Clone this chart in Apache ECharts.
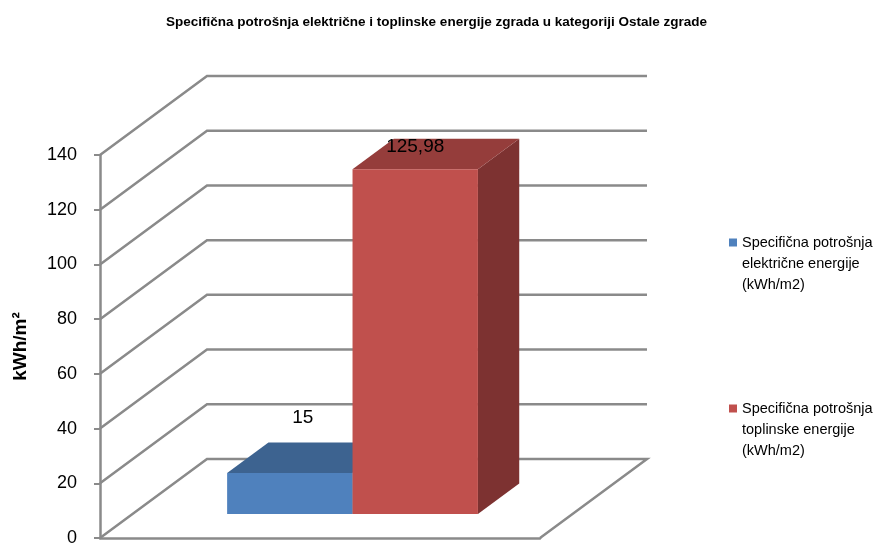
<!DOCTYPE html>
<html>
<head>
<meta charset="utf-8">
<script src="https://cdn.jsdelivr.net/npm/echarts@6/dist/echarts.min.js"></script>
<style>
    html, body { margin: 0; padding: 0; background: #fff; }
    #chart { width: 873px; height: 547px; }
</style>
</head>
<body>
<div id="chart"></div>
<script>
// podaci
var categories = ['Ostale zgrade'];
var seriesNames = [
    'Specifična potrošnja\nelektrične energije\n(kWh/m2)',
    'Specifična potrošnja\ntoplinske energije\n(kWh/m2)'
];
var electricValues = [15];
var thermalValues = [125.98];
var valueLabels = [['15'], ['125,98']];
var yTicks = [0, 20, 40, 60, 80, 100, 120, 140];

// 3D projekcija (pomak stražnjeg zida)
var DX = 107, DY = -79;
var F0 = 0.304, F1 = 0.69;      // dubina prednje / stražnje stranice stupca
var BAR_W = 0.285;              // širina stupca u odnosu na kategoriju
var gridColor = '#8a8a8a';

var barStyles = [
    { front: '#4f81bd', top: '#3d6390', side: '#36577f', side0: -1, labelDx: 13, labelLift: 25 },
    { front: '#c0504d', top: '#953d3b', side: '#7d3231', side0: 0, labelDx: 0, labelLift: -8 }
];

function renderWall(params, api) {
    var cs = params.coordSys;
    var v = api.value(1);
    var y = api.coord([0, v])[1];
    var x0 = cs.x, x1 = cs.x + cs.width;
    var pts = [[x0, y], [x0 + DX, y + DY], [x1 + DX, y + DY]];
    if (v === 0) pts.push([x1, y]);
    return {
        type: 'polyline',
        shape: { points: pts },
        style: { stroke: gridColor, lineWidth: 2.5, fill: null, lineJoin: 'miter' }
    };
}

function makeBar(idx) {
    return function (params, api) {
        var st = barStyles[idx];
        var top = api.coord([api.value(0), api.value(1)]);
        var base = api.coord([api.value(0), 0]);
        var band = api.size([1, 0])[0];
        var w = band * BAR_W;
        var xl = top[0] + st.side0 * w, xr = xl + w;
        var yt = top[1], yb = base[1];
        function p(x, y, f) { return [x + f * DX, y + f * DY]; }
        var front = [p(xl, yt, F0), p(xr, yt, F0), p(xr, yb, F0), p(xl, yb, F0)];
        var topFace = [p(xl, yt, F0), p(xr, yt, F0), p(xr, yt, F1), p(xl, yt, F1)];
        var side = [p(xr, yt, F0), p(xr, yt, F1), p(xr, yb, F1), p(xr, yb, F0)];
        var frontTop = p((xl + xr) / 2, yt, F0);
        var backTop = p((xl + xr) / 2, yt, F1);
        return {
            type: 'group',
            children: [
                { type: 'polygon', shape: { points: side }, style: { fill: st.side } },
                { type: 'polygon', shape: { points: topFace }, style: { fill: st.top } },
                { type: 'polygon', shape: { points: front }, style: { fill: st.front } },
                {
                    type: 'text',
                    style: {
                        text: valueLabels[idx][params.dataIndex],
                        x: frontTop[0] + st.labelDx,
                        y: backTop[1] - st.labelLift,
                        align: 'center',
                        verticalAlign: 'middle',
                        fontSize: 19,
                        fontFamily: 'Liberation Sans',
                        fill: '#000'
                    }
                }
            ]
        };
    };
}

// ikona legende: kvadrat uz prvi red teksta
var legendIcon = 'path://M0,0L0,0M0,63L0,63M0,6.5H8V14.5H0Z';

var myChart = echarts.init(document.getElementById('chart'));
var option = {
    animation: false,
    textStyle: { fontFamily: 'Liberation Sans' },
    title: {
        text: 'Specifična potrošnja električne i toplinske energije zgrada u kategoriji Ostale zgrade',
        left: 'center',
        top: 10,
        textStyle: { fontSize: 13.5, fontWeight: 'bold', color: '#000', fontFamily: 'Liberation Sans' }
    },
    legend: {
        orient: 'vertical',
        left: 729,
        top: 232,
        padding: 0,
        itemGap: 103,
        itemWidth: 8,
        itemHeight: 63,
        icon: legendIcon,
        symbolKeepAspect: false,
        data: seriesNames,
        textStyle: { fontSize: 14.5, color: '#000', lineHeight: 21 }
    },
    grid: { left: 100, top: 155, width: 440, height: 386 },
    xAxis: {
        type: 'category',
        data: categories,
        axisLine: { lineStyle: { color: gridColor, width: 2.5 } },
        axisTick: { show: false },
        axisLabel: { show: false }
    },
    yAxis: {
        type: 'value',
        min: 0,
        max: 140,
        interval: 20,
        name: 'kWh/m²',
        nameLocation: 'middle',
        nameGap: 70,
        nameTextStyle: { fontSize: 19, fontWeight: 'bold', color: '#000' },
        axisLine: { show: true, lineStyle: { color: gridColor, width: 2.5 } },
        axisTick: { show: true, length: 6, lineStyle: { color: gridColor, width: 2 } },
        axisLabel: { fontSize: 18, color: '#000', margin: 23 },
        splitLine: { show: false }
    },
    series: [
        {
            name: 'zid',
            type: 'custom',
            z: 1,
            silent: true,
            clip: false,
            renderItem: renderWall,
            data: yTicks.map(function (v) { return [0, v]; })
        },
        {
            name: seriesNames[0],
            type: 'custom',
            z: 2,
            clip: false,
            itemStyle: { color: barStyles[0].front },
            renderItem: makeBar(0),
            data: electricValues.map(function (v, i) { return [i, v]; })
        },
        {
            name: seriesNames[1],
            type: 'custom',
            z: 3,
            clip: false,
            itemStyle: { color: barStyles[1].front },
            renderItem: makeBar(1),
            data: thermalValues.map(function (v, i) { return [i, v]; })
        }
    ]
};
myChart.setOption(option);
</script>
</body>
</html>
